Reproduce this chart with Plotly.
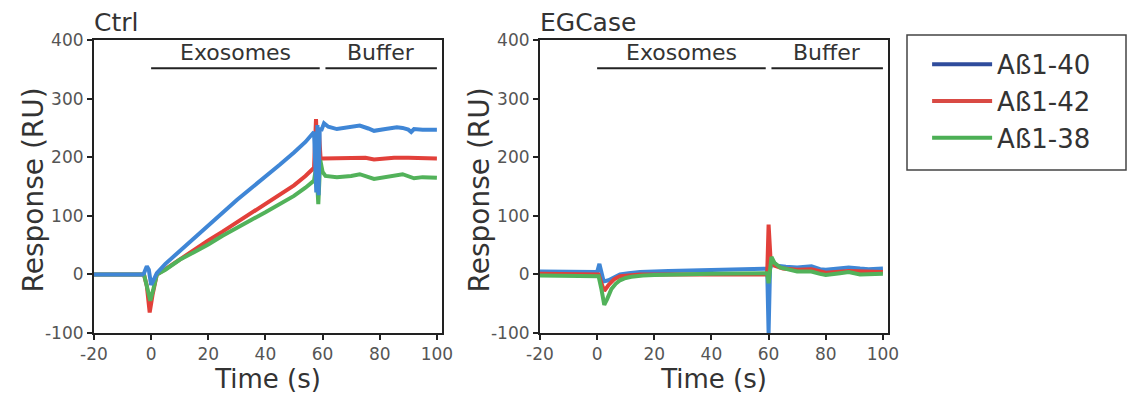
import plotly.graph_objects as go

# ---------------- data ----------------
series_names = ["Aß1-40", "Aß1-42", "Aß1-38"]
plot_colors = ["#3f86d6", "#e2403a", "#52b25a"]
legend_colors = ["#2f4c9c", "#d94a44", "#4caf55"]

# Ctrl panel
ctrl_t_40 = [-20, -3, -2.5, -1.5, -0.8, 0, 0.8, 2, 5, 10, 15, 20, 25, 30, 35, 40, 45, 50, 54, 57, 57.8, 58.2, 58.6, 59, 59.5,
             60.5, 62, 65, 68, 73, 76, 78, 82, 86, 88, 90, 91, 92, 95, 100]
ctrl_v_40 = [0, 0, 2, 14, 8, -18, -10, 2, 18, 40, 63, 85, 107, 127, 147, 166, 187, 208, 226, 243, 140, 255, 135, 250, 245,
             258, 252, 248, 250, 254, 249, 245, 248, 251, 250, 247, 243, 248, 247, 247]
ctrl_t_42 = [-20, -2.5, -1.5, -0.5, 0.5, 2, 5, 10, 15, 20, 25, 30, 35, 40, 45, 50, 54, 57, 57.7, 58.2, 58.7, 59.3, 60,
             65, 75, 78, 85, 90, 100]
ctrl_v_42 = [0, 0, -20, -65, -35, 0, 9, 26, 42, 58, 73, 89, 104, 120, 136, 152, 168, 182, 265, 200, 245, 198, 198,
             198, 199, 196, 199, 199, 198]
ctrl_t_38 = [-20, -2.5, -1.5, -0.3, 0.8, 2, 5, 10, 15, 20, 25, 30, 35, 40, 45, 50, 54, 57, 57.8, 58.5, 59.2, 60, 61,
             65, 70, 73, 78, 83, 88, 92, 95, 100]
ctrl_v_38 = [0, 0, -20, -45, -25, 0, 8, 25, 38, 51, 66, 80, 93, 106, 120, 134, 148, 160, 185, 120, 195, 175, 168,
             166, 168, 171, 163, 167, 171, 164, 166, 165]

# EGCase panel
eg_t_40 = [-20, 0, 0.8, 1.5, 2.3, 4, 6, 8, 11, 15, 25, 40, 55, 59.5, 60, 60.5, 61.5, 63, 66, 70, 75, 78,
           80, 85, 88, 92, 95, 100]
eg_v_40 = [5, 4, 18, 5, -12, -10, -4, 0, 2, 4, 6, 8, 10, 10, -100, 10, 22, 15, 13, 12, 14, 9,
           8, 10, 12, 10, 9, 10]
eg_t_42 = [-20, 0.5, 1.5, 2.5, 4, 6, 8, 11, 15, 30, 59.5, 60, 60.7, 62, 65, 70, 75, 80, 88, 100]
eg_v_42 = [1, 0, -15, -28, -18, -8, -3, -1, 0, 0, 0, 85, 25, 15, 10, 8, 9, 3, 6, 4]
eg_t_38 = [-20, 0.5, 1.5, 2.5, 3.5, 5, 6.5, 8, 10, 12, 16, 20, 40, 59.5, 60, 61, 62, 64, 70, 75, 78, 80, 85,
           88, 92, 100]
eg_v_38 = [-2, -3, -25, -52, -42, -25, -16, -10, -6, -4, -2, -1, 1, 2, -15, 30, 20, 12, 5, 5, 1, -1, 2,
           4, 0, 1]

panel_titles = ["Ctrl", "EGCase"]
phase_labels = ["Exosomes", "Buffer"]
phase_starts = [0, 61]
phase_ends = [59, 100]
phase_level = 352
x_ticks = [-20, 0, 20, 40, 60, 80, 100]
y_ticks = [-100, 0, 100, 200, 300, 400]
x_tick_text = ["-20", "0", "20", "40", "60", "80", "100"]
y_tick_text = ["-100", "0", "100", "200", "300", "400"]

# ---------------- figure ----------------
FONT = "DejaVu Sans"
TXT = "#333333"
fig = go.Figure()

panels = [
    ("x", "y", [(ctrl_t_42, ctrl_v_42, 1), (ctrl_t_38, ctrl_v_38, 2), (ctrl_t_40, ctrl_v_40, 0)]),
    ("x2", "y2", [(eg_t_40, eg_v_40, 0), (eg_t_42, eg_v_42, 1), (eg_t_38, eg_v_38, 2)]),
]
for xa, ya, traces in panels:
    for t, v, i in traces:
        fig.add_trace(go.Scatter(x=t, y=v, mode="lines", xaxis=xa, yaxis=ya,
                                 line=dict(color=plot_colors[i], width=4),
                                 showlegend=False, name=series_names[i]))

# legend entries
for i, nm in enumerate(series_names):
    fig.add_trace(go.Scatter(x=[None], y=[None], mode="lines", name=nm,
                             line=dict(color=legend_colors[i], width=4), showlegend=True))

axis_common = dict(showline=True, linecolor="#222222", linewidth=2, mirror=True,
                   ticks="outside", ticklen=5, tickwidth=2, tickcolor="#222222",
                   showgrid=False, zeroline=False, automargin=False,
                   tickfont=dict(family=FONT, size=17, color="#555555"))

fig.update_layout(
    width=1132, height=396,
    margin=dict(l=0, r=0, t=0, b=0),
    paper_bgcolor="white", plot_bgcolor="white",
    font=dict(family=FONT, color=TXT),
    xaxis=dict(domain=[0.083, 0.3905], range=[-20, 101.8], tickvals=x_ticks, ticktext=x_tick_text,
               title=dict(text="Time (s)", font=dict(size=26, color=TXT), standoff=2), **axis_common),
    yaxis=dict(domain=[0.159, 0.899], range=[-100, 400], tickvals=y_ticks, ticktext=y_tick_text,
               **axis_common),
    xaxis2=dict(domain=[0.477, 0.7845], range=[-20, 101.8], tickvals=x_ticks, ticktext=x_tick_text, anchor="y2",
                title=dict(text="Time (s)", font=dict(size=26, color=TXT), standoff=2), **axis_common),
    yaxis2=dict(domain=[0.159, 0.899], range=[-100, 400], tickvals=y_ticks, ticktext=y_tick_text, anchor="x2",
                **axis_common),
    legend=dict(x=0.819, y=0.897, xanchor="left", yanchor="top",
                borderwidth=0, bgcolor="rgba(0,0,0,0)",
                font=dict(family=FONT, size=26, color=TXT), tracegroupgap=0,
                itemwidth=60),
)

# legend frame
fig.add_shape(type="rect", xref="paper", yref="paper", x0=907 / 1132, x1=1126 / 1132,
              y0=1 - 170 / 396, y1=1 - 35 / 396, line=dict(color="#444444", width=1.5))

for k, (xa, ya) in enumerate([("x", "y"), ("x2", "y2")]):
    for lbl, s, e in zip(phase_labels, phase_starts, phase_ends):
        fig.add_shape(type="line", xref=xa, yref=ya, x0=s, x1=e, y0=phase_level, y1=phase_level,
                      line=dict(color="#222222", width=2))
        fig.add_annotation(x=(s + e) / 2, y=phase_level, xref=xa, yref=ya, text=lbl,
                           showarrow=False, yanchor="bottom", yshift=1,
                           font=dict(family=FONT, size=22, color=TXT))
    dom = fig.layout["xaxis" if k == 0 else "xaxis2"].domain
    ydom = fig.layout["yaxis" if k == 0 else "yaxis2"].domain
    fig.add_annotation(x=dom[0], y=1 - 39 / 396, xref="paper", yref="paper", text=panel_titles[k],
                       showarrow=False, xanchor="left", yanchor="bottom", xshift=-2,
                       font=dict(family=FONT, size=25, color=TXT))
    # y-axis title
    fig.add_annotation(x=dom[0], y=(ydom[0] + ydom[1]) / 2, xref="paper", yref="paper",
                       text="Response (RU)", textangle=-90, showarrow=False,
                       xanchor="center", yanchor="middle", xshift=-60, yshift=-3,
                       font=dict(family=FONT, size=28, color=TXT))

fig.write_html("out.html")
